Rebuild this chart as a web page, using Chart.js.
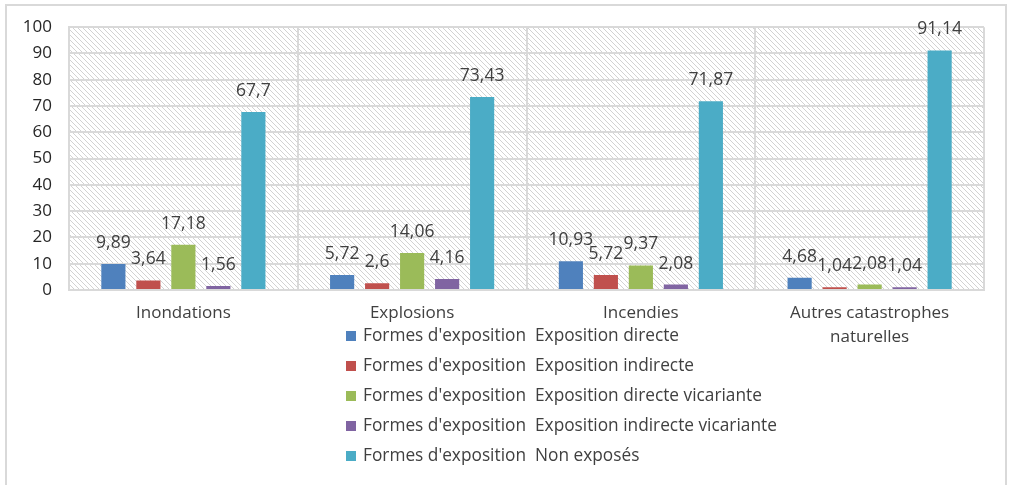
<!DOCTYPE html>
<html>
<head>
<meta charset="utf-8">
<script src="https://cdn.jsdelivr.net/npm/chart.js@4.4.1/dist/chart.umd.min.js"></script>
<style>
html,body{margin:0;padding:0;background:#fff;}
#wrap{width:1011px;height:485px;position:relative;}
</style>
</head>
<body>
<div id="wrap"><canvas id="c" width="1011" height="485"></canvas></div>
<script>
const categories = ["Inondations", "Explosions", "Incendies", ["Autres catastrophes", "naturelles"]];
const seriesNames = [
  "Formes d'exposition  Exposition directe",
  "Formes d'exposition  Exposition indirecte",
  "Formes d'exposition  Exposition directe vicariante",
  "Formes d'exposition  Exposition indirecte vicariante",
  "Formes d'exposition  Non exposés"
];
const directe = [9.89, 5.72, 10.93, 4.68];
const indirecte = [3.64, 2.6, 5.72, 1.04];
const directeVicariante = [17.18, 14.06, 9.37, 2.08];
const indirecteVicariante = [1.56, 4.16, 2.08, 1.04];
const nonExposes = [67.7, 73.43, 71.87, 91.14];
const yTicks = [0, 10, 20, 30, 40, 50, 60, 70, 80, 90, 100];

const colors = ["#4f81bd", "#c0504d", "#9bbb59", "#8064a2", "#4bacc6"];
const seriesValues = [directe, indirecte, directeVicariante, indirecteVicariante, nonExposes];

const FONT = "'Open Sans', sans-serif";
const TEXT = "#404040";

function hatchPattern(ctx) {
  const p = document.createElement('canvas');
  p.width = 5; p.height = 5;
  const g = p.getContext('2d');
  g.fillStyle = '#ffffff';
  g.fillRect(0, 0, 5, 5);
  g.strokeStyle = '#d2d2d2';
  g.lineWidth = 1;
  g.beginPath();
  g.moveTo(-1, -1); g.lineTo(6, 6);
  g.moveTo(-1, 4); g.lineTo(1, 6);
  g.moveTo(4, -1); g.lineTo(6, 1);
  g.stroke();
  return ctx.createPattern(p, 'repeat');
}

const bgPlugin = {
  id: 'bg',
  beforeDraw(chart) {
    const ctx = chart.ctx;
    const a = chart.chartArea;
    ctx.save();
    ctx.fillStyle = '#fff';
    ctx.fillRect(0, 0, chart.width, chart.height);
    ctx.strokeStyle = '#d9d9d9';
    ctx.lineWidth = 2;
    ctx.strokeRect(6, 5, 1000, 490);
    ctx.fillStyle = hatchPattern(ctx);
    ctx.fillRect(a.left, a.top, a.right - a.left, a.bottom - a.top);
    ctx.restore();
  }
};

const labelPlugin = {
  id: 'vals',
  afterDatasetsDraw(chart) {
    const ctx = chart.ctx;
    ctx.save();
    ctx.font = "17.5px " + FONT;
    ctx.fillStyle = TEXT;
    ctx.textAlign = 'center';
    ctx.textBaseline = 'middle';
    chart.data.datasets.forEach((ds, i) => {
      const meta = chart.getDatasetMeta(i);
      meta.data.forEach((el, j) => {
        const txt = String(ds.data[j]).replace('.', ',');
        ctx.fillText(txt, el.x, el.y - 21);
      });
    });
    ctx.restore();
  }
};

const legendPlugin = {
  id: 'customLegend',
  afterDraw(chart) {
    const ctx = chart.ctx;
    ctx.save();
    ctx.font = "17.3px " + FONT;
    ctx.textBaseline = 'middle';
    ctx.textAlign = 'left';
    const x0 = 346, y0 = 336, step = 30;
    chart.data.datasets.forEach((ds, i) => {
      const y = y0 + i * step;
      ctx.fillStyle = ds.backgroundColor;
      ctx.fillRect(x0, y - 5, 10, 10);
      ctx.fillStyle = TEXT;
      ctx.fillText(ds.label, x0 + 17, y);
    });
    ctx.restore();
  }
};

const datasets = seriesNames.map((n, i) => ({
  label: n,
  data: seriesValues[i],
  backgroundColor: colors[i],
  borderWidth: 0,
  categoryPercentage: 0.765,
  barPercentage: 0.69
}));

new Chart(document.getElementById('c'), {
  type: 'bar',
  data: { labels: categories, datasets },
  options: {
    responsive: false,
    animation: false,
    devicePixelRatio: 1,
    layout: { padding: { left: 0, right: 27, top: 23, bottom: 0 } },
    plugins: { legend: { display: false }, tooltip: { enabled: false } },
    scales: {
      x: {
        grid: { color: '#d9d9d9', lineWidth: 2, offset: true, drawTicks: false },
        border: { color: '#d9d9d9', width: 2 },
        ticks: { color: TEXT, font: { family: FONT, size: 17, lineHeight: 1.4 }, padding: 11, maxRotation: 0, autoSkip: false },
        afterFit(s) { s.height = 195; }
      },
      y: {
        min: 0, max: 100,
        afterBuildTicks(s) { s.ticks = yTicks.map(v => ({ value: v })); },
        grid: { color: '#d9d9d9', lineWidth: 2, drawTicks: false },
        border: { color: '#d9d9d9', width: 2 },
        ticks: { color: '#262626', font: { family: FONT, size: 17 }, padding: 17 },
        afterFit(s) { s.width = 69; }
      }
    }
  },
  plugins: [bgPlugin, labelPlugin, legendPlugin]
});
</script>
</body>
</html>
